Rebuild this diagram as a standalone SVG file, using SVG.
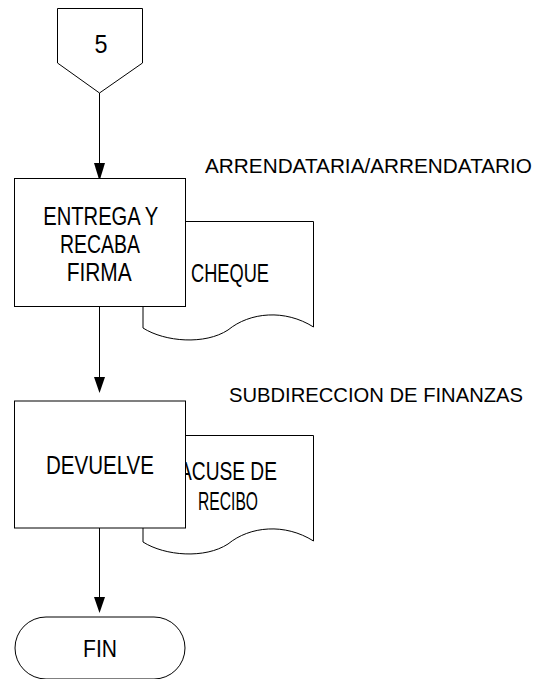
<svg xmlns="http://www.w3.org/2000/svg" width="547" height="679" viewBox="0 0 547 679">
<style>
.sh{fill:#fff;stroke:#000;stroke-width:1}
.ln{fill:none;stroke:#000;stroke-width:1}
.ah{fill:#000}
.t{font-family:"Liberation Sans",Arial,sans-serif;font-size:25px;fill:#000;text-anchor:middle}
.lb{font-family:"Liberation Sans",Arial,sans-serif;font-size:21px;fill:#000}
</style>
<g id="connectors">
<line class="ln" x1="99.5" y1="93" x2="99.5" y2="164"/>
<path class="ah" d="M94,163 L105,163 L99.5,181 Z"/>
<line class="ln" x1="99.5" y1="306" x2="99.5" y2="378"/>
<path class="ah" d="M94,377 L105,377 L99.5,393 Z"/>
<line class="ln" x1="99.5" y1="528" x2="99.5" y2="598"/>
<path class="ah" d="M94,597 L105,597 L99.5,613 Z"/>
</g>
<g id="offpage5">
<polygon class="sh" points="57.5,8.5 142.5,8.5 142.5,63 99.5,93 57.5,63"/>
<text class="t" x="101" y="53" style="font-size:26px" textLength="13" lengthAdjust="spacingAndGlyphs">5</text>
</g>
<g id="lbl-arrendataria">
<text class="lb" x="205" y="173" textLength="327" lengthAdjust="spacingAndGlyphs">ARRENDATARIA/ARRENDATARIO</text>
</g>
<g id="doc-cheque">
<path class="sh" d="M143,221.5 H313.5 V327 C285,309 250,312 228,330 C205,345 165,342 143,328 Z"/>
<text class="t" x="230" y="281.5" textLength="78" lengthAdjust="spacingAndGlyphs">CHEQUE</text>
</g>
<g id="proc-entrega">
<rect class="sh" x="14.5" y="178.5" width="171" height="128"/>
<text class="t" x="100.8" y="225" textLength="115" lengthAdjust="spacingAndGlyphs">ENTREGA Y</text>
<text class="t" x="100" y="252.5" textLength="80" lengthAdjust="spacingAndGlyphs">RECABA</text>
<text class="t" x="99.2" y="280.5" textLength="65" lengthAdjust="spacingAndGlyphs">FIRMA</text>
</g>
<g id="lbl-subdireccion">
<text class="lb" x="229" y="402" textLength="294" lengthAdjust="spacingAndGlyphs">SUBDIRECCION DE FINANZAS</text>
</g>
<g id="doc-acuse">
<path class="sh" d="M143,435.5 H313.5 V541 C285,523 250,526 228,544 C205,559 165,556 143,542 Z"/>
<text class="t" x="228" y="480" textLength="98" lengthAdjust="spacingAndGlyphs">ACUSE DE</text>
<text class="t" x="228" y="510" textLength="60" lengthAdjust="spacingAndGlyphs">RECIBO</text>
</g>
<g id="proc-devuelve">
<rect class="sh" x="14.5" y="401" width="171" height="127"/>
<text class="t" x="100" y="474" textLength="108" lengthAdjust="spacingAndGlyphs">DEVUELVE</text>
</g>
<g id="term-fin">
<rect class="sh" x="15" y="617" width="170" height="62" rx="31" ry="31"/>
<text class="t" x="100" y="657" style="font-size:23px" textLength="34" lengthAdjust="spacingAndGlyphs">FIN</text>
</g>
</svg>
